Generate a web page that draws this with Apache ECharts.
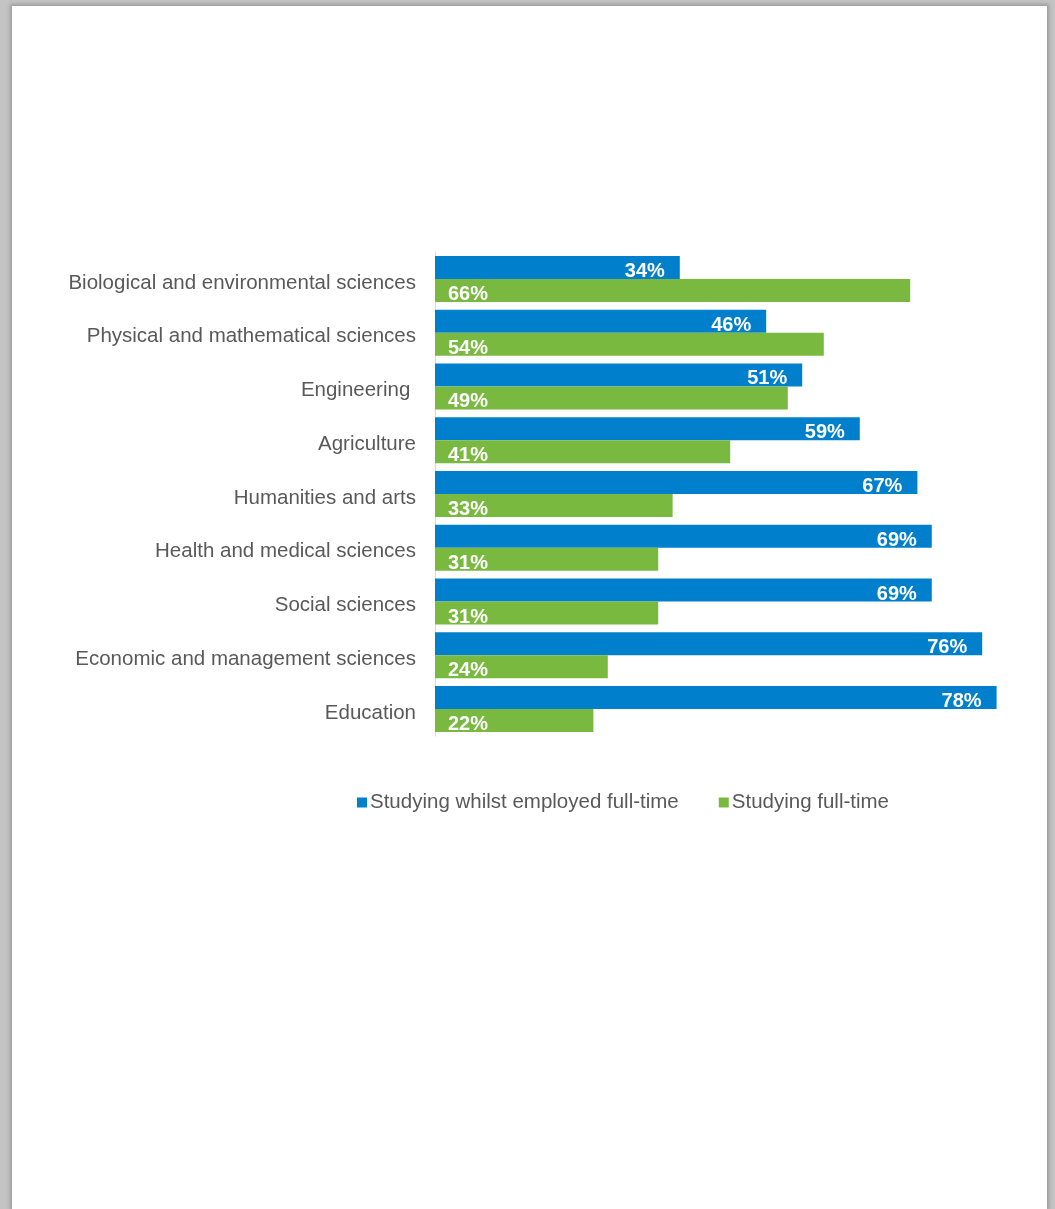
<!DOCTYPE html>
<html>
<head>
<meta charset="utf-8">
<script src="https://cdn.jsdelivr.net/npm/echarts@6/dist/echarts.min.js"></script>
<style>
html,body{margin:0;padding:0;width:1055px;height:1209px;background:#c4c4c4;overflow:hidden;}
#page{position:absolute;left:12px;top:6px;width:1035px;height:1203px;background:#fff;box-shadow:0 0 4px 2px #9a9a9a;}
#chart{position:absolute;left:0;top:0;width:1055px;height:1209px;}
</style>
</head>
<body>
<div id="page"></div>
<div id="chart"></div>
<script>
const categories = [
  "Biological and environmental sciences",
  "Physical and mathematical sciences",
  "Engineering ",
  "Agriculture",
  "Humanities and arts",
  "Health and medical sciences",
  "Social sciences",
  "Economic and management sciences",
  "Education"
];
const employedFullTime = [34, 46, 51, 59, 67, 69, 69, 76, 78];
const studyingFullTime = [66, 54, 49, 41, 33, 31, 31, 24, 22];
const seriesNames = ["Studying whilst employed full-time", "Studying full-time"];

const chart = echarts.init(document.getElementById('chart'), null, {renderer: 'canvas'});
const font = "'Liberation Sans Narrow', 'Arial Narrow', 'Liberation Sans', Arial, sans-serif";
chart.setOption({
  backgroundColor: 'transparent',
  animation: false,
  grid: {left: 435, top: 252, width: 576, height: 484, containLabel: false},
  xAxis: {type: 'value', min: 0, max: 80, show: false},
  yAxis: {
    type: 'category', data: categories, inverse: true,
    axisLine: {show: true, lineStyle: {color: '#d9d9d9', width: 1}},
    axisTick: {show: false},
    axisLabel: {color: '#595959', fontSize: 20.5, fontFamily: font, margin: 19, padding: [0, 0, 0, 0], verticalAlign: 'middle', lineHeight: 24,
      rich: {}, formatter: function (v) { return '{d|' + v + '}'; }}
  },
  legend: {
    data: seriesNames, left: 352, top: 787, itemWidth: 10, itemHeight: 10, itemGap: 40,
    icon: 'rect',
    textStyle: {color: '#595959', fontSize: 20.5, fontFamily: font, padding: [0, 0, 0, -2]}
  },
  series: [
    {
      name: seriesNames[0], type: 'bar', data: employedFullTime,
      barGap: '0%', barWidth: 23,
      itemStyle: {color: '#0080CC'},
      label: {show: true, position: 'insideRight', offset: [-10, 4], formatter: '{c}%',
        color: '#fff', fontWeight: 'bold', fontSize: 20, fontFamily: font}
    },
    {
      name: seriesNames[1], type: 'bar', data: studyingFullTime,
      barWidth: 23,
      itemStyle: {color: '#7AB940'},
      label: {show: true, position: 'insideLeft', offset: [8, 4], formatter: '{c}%',
        color: '#fff', fontWeight: 'bold', fontSize: 20, fontFamily: font}
    }
  ]
});
// shift category labels slightly downward via rich padding
chart.setOption({yAxis: {axisLabel: {rich: {d: {color: '#595959', fontSize: 20.5, fontFamily: font, padding: [8, 0, 0, 0]}}}}});
</script>
</body>
</html>
